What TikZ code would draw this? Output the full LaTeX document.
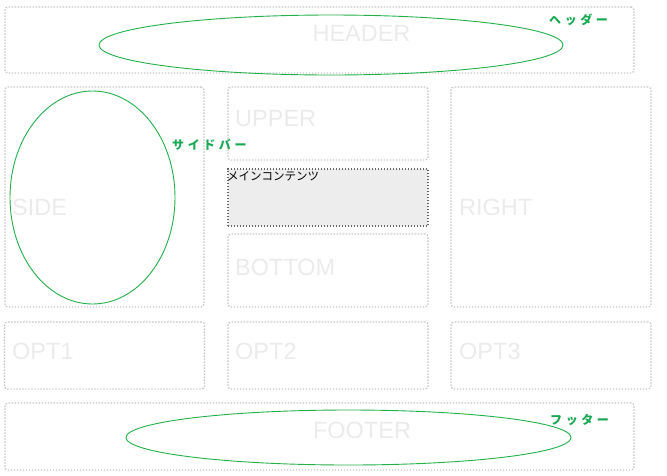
\documentclass[tikz,border=0pt]{standalone}
\usepackage{fontspec}
\setmainfont{Liberation Sans}
\newfontfamily\jpfont{Noto Sans CJK JP}
\newfontfamily\jpnote[LetterSpace=30]{Noto Sans CJK JP}
\usepackage{tikz}
\usepackage{xcolor}
\usetikzlibrary{shapes.geometric,positioning}
\definecolor{BoxLine}{HTML}{C4C4C4}
\definecolor{BoxText}{HTML}{EBEBEB}
\definecolor{MainFill}{HTML}{EDEDED}
\definecolor{MainLine}{HTML}{666666}
\definecolor{OvalGreen}{HTML}{22B04B}
\definecolor{NoteGreen}{HTML}{17A852}
\tikzset{
  lybox/.style={draw=BoxLine, line width=1.3pt, dash pattern=on 1.4pt off 1.6pt, rounded corners=3pt, inner sep=0pt},
  lymain/.style={draw=MainLine, fill=MainFill, line width=1.3pt, dash pattern=on 1.4pt off 1.6pt, inner sep=0pt},
  lylabel/.style={text=BoxText, inner sep=0pt, font=\fontsize{23.5}{23.5}\selectfont},
  lyoval/.style={draw=OvalGreen, ellipse, line width=0.9pt, inner sep=0pt},
  lynote/.style={text=NoteGreen, inner sep=0pt, font=\jpnote\bfseries\fontsize{12}{12}\selectfont}
}

\begin{document}
\begin{tikzpicture}[x=1pt, y=-1pt]
  \useasboundingbox (0,0) rectangle (667,475);
  % frame boxes
  \node[lybox, minimum width=629pt, minimum height=66pt] (header) at (319.5,40) {};
  \node[lybox, minimum width=199pt, minimum height=220pt] (side) at (104.5,197) {};
  \node[lybox, minimum width=200pt, minimum height=73pt] (upper) at (328,123.5) {};
  \node[lymain, minimum width=200pt, minimum height=57pt] (main) at (328,197.5) {};
  \node[lybox, minimum width=200pt, minimum height=73pt] (bottom) at (328,270.5) {};
  \node[lybox, minimum width=200pt, minimum height=220pt] (right) at (551,197) {};
  \foreach \name/\cx in {opt1/104.5, opt2/328, opt3/551} {
    \node[lybox, minimum width=200pt, minimum height=67pt] (\name) at (\cx,355.5) {};
  }
  \node[lybox, minimum width=629pt, minimum height=67pt] (footer) at (319.5,436.5) {};
  % grey labels
  \node[lylabel] (headertxt) at (361.5,33) {HEADER};
  \node[lylabel, anchor=west] (sidetxt) at (12,207) {SIDE};
  \node[lylabel, anchor=west] (uppertxt) at (235,119) {UPPER};
  \node[lylabel, anchor=west] (bottomtxt) at (235,267) {BOTTOM};
  \node[lylabel, anchor=west] (righttxt) at (459,207) {RIGHT};
  \node[lylabel, anchor=west] (opt1txt) at (12,351) {OPT1};
  \node[lylabel, anchor=west] (opt2txt) at (235,351) {OPT2};
  \node[lylabel, anchor=west] (opt3txt) at (459,351) {OPT3};
  \node[lylabel] (footertxt) at (362,430) {FOOTER};
  \node[anchor=north west, inner sep=0pt, font=\jpfont\fontsize{11.5}{11.5}\selectfont] (maintxt) at (227,171) {メインコンテンツ};
  % green marks
  \node[lyoval, minimum width=464pt, minimum height=60pt] (headeroval) at (331,45) {};
  \node[lyoval, minimum width=165pt, minimum height=213pt] (sideoval) at (92.5,197.5) {};
  \node[lyoval, minimum width=445pt, minimum height=55pt] (footeroval) at (348.5,437.5) {};
  \node[lynote, anchor=west] (headernote) at (549,20) {ヘッダー};
  \node[lynote, anchor=west] (sidenote) at (172,145) {サイドバー};
  \node[lynote, anchor=west] (footernote) at (550,420) {フッター};
\end{tikzpicture}
\end{document}
